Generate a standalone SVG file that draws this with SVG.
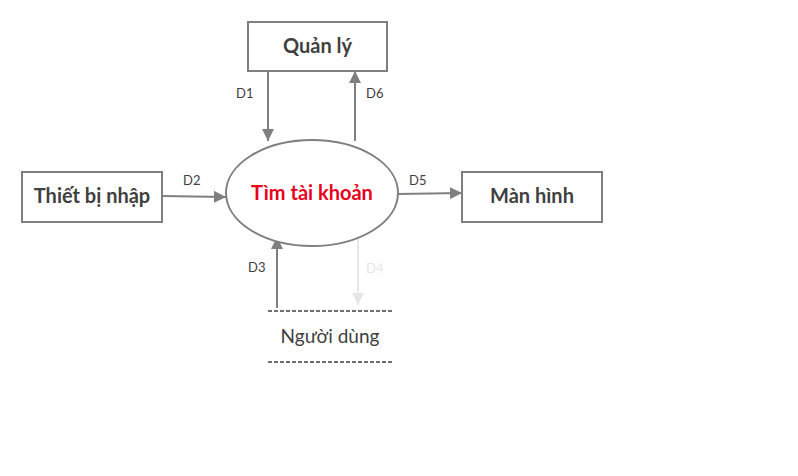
<svg xmlns="http://www.w3.org/2000/svg" width="798" height="476" viewBox="0 0 798 476">
<style>
.box{fill:#fff;stroke:#7f7f7f;stroke-width:2}
.t{font-family:Lato,"Noto Sans",sans-serif;font-size:20px;font-weight:bold;fill:#404040;text-anchor:middle}
.lbl{font-family:Lato,"Noto Sans",sans-serif;font-size:13px;fill:#404040}
.ln{stroke:#7f7f7f;stroke-width:2;fill:none}
.dash{stroke:#404040;stroke-width:1.3;stroke-dasharray:4,2}
</style>
<defs>
<marker id="ah" viewBox="0 0 10 10" refX="10" refY="5" markerWidth="6" markerHeight="6" markerUnits="strokeWidth" orient="auto">
<path d="M0,0 L10,5 L0,10 z" fill="#7f7f7f"/>
</marker>
<marker id="ahl" viewBox="0 0 10 10" refX="10" refY="5" markerWidth="6" markerHeight="6" markerUnits="strokeWidth" orient="auto">
<path d="M0,0 L10,5 L0,10 z" fill="#e6e6e6"/>
</marker>
</defs>
<rect width="798" height="476" fill="#fff"/>
<g id="connectors">
<line class="ln" x1="268" y1="71" x2="268" y2="141" marker-end="url(#ah)"/>
<line class="ln" x1="355" y1="141" x2="355" y2="71" marker-end="url(#ah)"/>
<line class="ln" x1="162" y1="196" x2="226" y2="197" marker-end="url(#ah)"/>
<line class="ln" x1="398" y1="194" x2="462" y2="193" marker-end="url(#ah)"/>
<line class="ln" x1="277" y1="308" x2="277" y2="237" marker-end="url(#ah)"/>
<line x1="358" y1="233" x2="358" y2="305" stroke="#e6e6e6" stroke-width="2" marker-end="url(#ahl)"/>
<text class="lbl" x="236" y="98">D1</text>
<text class="lbl" x="366" y="98">D6</text>
<text class="lbl" x="183" y="185">D2</text>
<text class="lbl" x="409" y="185">D5</text>
<text class="lbl" x="248" y="272">D3</text>
<text class="lbl" x="366" y="273" style="fill:#e6e6e6">D4</text>
</g>
<g id="quanly">
<rect class="box" x="248" y="22" width="139" height="49"/>
<text class="t" x="317.5" y="53">Quản lý</text>
</g>
<g id="thietbinhap">
<rect class="box" x="22" y="172" width="140" height="50"/>
<text class="t" x="92" y="203">Thiết bị nhập</text>
</g>
<g id="manhinh">
<rect class="box" x="462" y="172" width="140" height="50"/>
<text class="t" x="532" y="203">Màn hình</text>
</g>
<g id="timtaikhoan">
<ellipse cx="312" cy="193" rx="86" ry="53" fill="#fff" stroke="#7f7f7f" stroke-width="2"/>
<text class="t" x="312" y="200" style="fill:#e8001c">Tìm tài khoản</text>
</g>
<g id="nguoidung">
<line class="dash" x1="268" y1="311" x2="393" y2="311"/>
<line class="dash" x1="268" y1="362" x2="393" y2="362"/>
<text x="330" y="343" style="font-family:Lato,'Noto Sans',sans-serif;font-size:19px;fill:#404040;text-anchor:middle">Người dùng</text>
</g>
</svg>
